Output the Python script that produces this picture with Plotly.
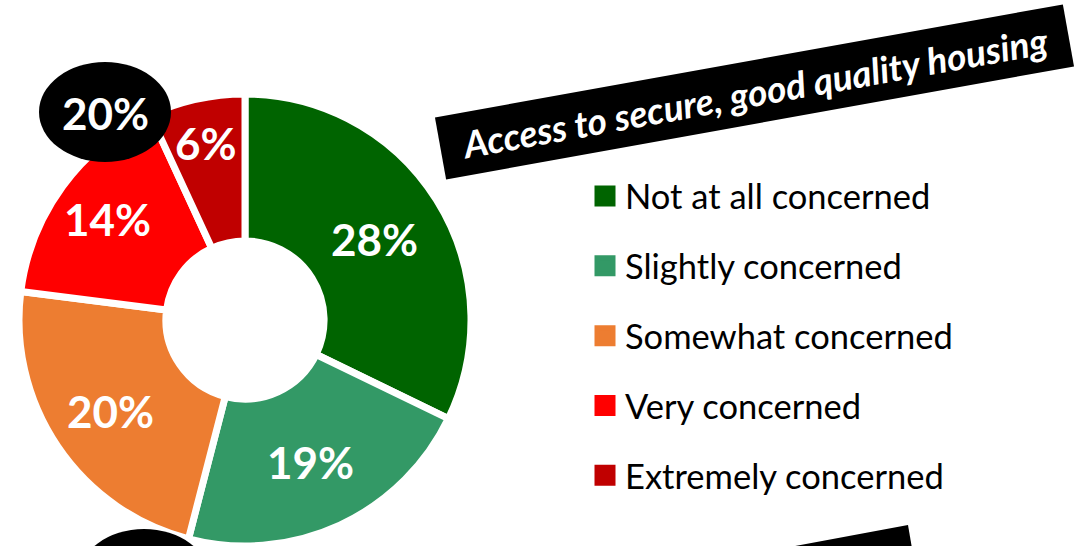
import math
import plotly.graph_objects as go

# ---- data ----
categories = ["Not at all concerned", "Slightly concerned", "Somewhat concerned",
              "Very concerned", "Extremely concerned"]
values = [28, 19, 20, 14, 6]
value_labels = ["28%", "19%", "20%", "14%", "6%"]
colors = ["#006400", "#339966", "#ED7D31", "#FF0000", "#C00000"]
banner_text = "Access to secure, good quality housing"
concerned_total_label = "20%"   # very + extremely concerned

# ---- style / layout ----
W, H = 1084, 546
FONT = "Lato"
label_radius = [153, 156, 162, 171, 181]   # px from donut centre


def px(x):
    return x / W


def py(y):
    return 1 - y / H


fig = go.Figure()

# donut
cx, cy, r = 245, 320, 226
fig.add_trace(go.Pie(
    labels=categories,
    values=values,
    marker=dict(colors=colors, line=dict(color="white", width=7)),
    hole=0.35,
    sort=False,
    direction="clockwise",
    rotation=0,
    textinfo="none",
    showlegend=False,
    domain=dict(x=[px(cx - r), px(cx + r)], y=[py(cy + r), py(cy - r)]),
    hoverinfo="label+value",
))

# slice labels at each slice's mid angle (clockwise from 12 o'clock)
annotations = []
total = sum(values)
cum = 0
for v, lab, rad in zip(values, value_labels, label_radius):
    mid = (cum + v / 2) / total * 2 * math.pi
    cum += v
    lx = cx + rad * math.sin(mid)
    ly = cy - rad * math.cos(mid)
    annotations.append(dict(
        text=f"<b>{lab}</b>", xref="paper", yref="paper",
        x=px(lx), y=py(ly), xanchor="center", yanchor="middle",
        showarrow=False, font=dict(family=FONT, size=44, color="white")))

# legend entries
for i, (cat, col) in enumerate(zip(categories, colors)):
    fig.add_trace(go.Scatter(
        x=[None], y=[None], mode="markers", name=cat,
        legendgroup=f"g{i}",
        marker=dict(symbol="square", size=16, color=col,
                    line=dict(color=col, width=5)),
    ))

annotations += [
    dict(text=f"<b><i>{banner_text}</i></b>", xref="paper", yref="paper",
         x=px(754), y=py(92), xanchor="center", yanchor="middle",
         showarrow=False, textangle=-10.2, bgcolor="black",
         width=637, height=62, borderpad=0, align="center", valign="middle",
         font=dict(family=FONT, size=37, color="white")),
    dict(text=f"<b>{concerned_total_label}</b>", xref="paper", yref="paper",
         x=px(105), y=py(113), xanchor="center", yanchor="middle",
         showarrow=False,
         font=dict(family=FONT, size=44, color="white")),
]

fig.update_layout(
    width=W, height=H,
    margin=dict(l=0, r=0, t=0, b=0),
    paper_bgcolor="white", plot_bgcolor="white",
    xaxis=dict(visible=False), yaxis=dict(visible=False),
    legend=dict(
        x=px(585), y=py(167), xanchor="left", yanchor="top",
        font=dict(family=FONT, size=34.5, color="black"),
        tracegroupgap=22, bgcolor="rgba(0,0,0,0)",
    ),
    shapes=[
        # black ellipse behind the "20%" total (top)
        dict(type="circle", xref="paper", yref="paper",
             x0=px(39), x1=px(171), y0=py(162), y1=py(62),
             fillcolor="black", line=dict(width=0), layer="above"),
        # partial ellipse at bottom
        dict(type="circle", xref="paper", yref="paper",
             x0=px(78), x1=px(210), y0=py(629), y1=py(529),
             fillcolor="black", line=dict(width=0), layer="above"),
        # partial banner at bottom
        dict(type="path", xref="paper", yref="paper",
             path=f"M {px(908)},{py(525)} L {px(914)},{py(560)} L {px(720)},{py(560)} Z",
             fillcolor="black", line=dict(width=0), layer="above"),
    ],
    annotations=annotations,
)

fig.write_html("out.html", config={"displayModeBar": False},
               post_script="document.body.style.margin='0';")
